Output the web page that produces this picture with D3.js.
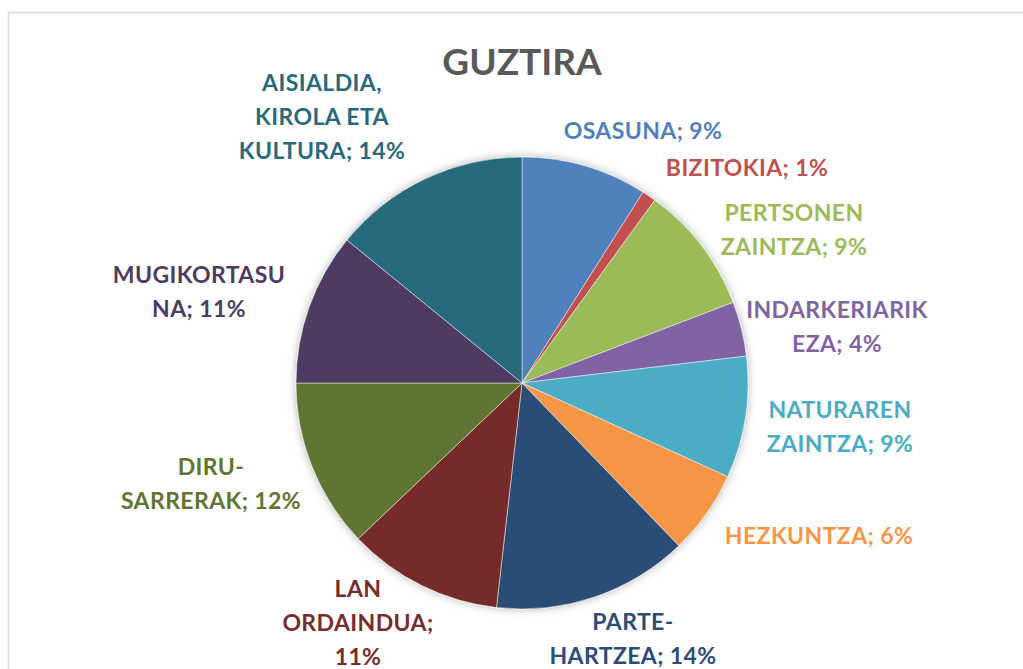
<!DOCTYPE html>
<html>
<head>
<meta charset="utf-8">
<script src="https://cdn.jsdelivr.net/npm/d3@7"></script>
<style>
  html, body { margin: 0; padding: 0; background: #fff; }
  svg { display: block; font-family: Lato, "Open Sans", sans-serif; }
</style>
</head>
<body>
<svg id="chart" width="1023" height="669"></svg>
<script>
// slice values (angles), clockwise from 12 o'clock
const categories = ['OSASUNA', 'BIZITOKIA', 'PERTSONEN ZAINTZA', 'INDARKERIARIK EZA',
  'NATURAREN ZAINTZA', 'HEZKUNTZA', 'PARTE-HARTZEA', 'LAN ORDAINDUA',
  'DIRU-SARRERAK', 'MUGIKORTASUNA', 'AISIALDIA, KIROLA ETA KULTURA']
const values = [9.0, 1.0, 9.2, 3.9, 8.7, 6.0, 14.0, 11.1, 12.1, 10.9, 14.1]
// how each label wraps ({p} = percentage)
const labelLines = [
  ['OSASUNA; {p}'],
  ['BIZITOKIA; {p}'],
  ['PERTSONEN', 'ZAINTZA; {p}'],
  ['INDARKERIARIK', 'EZA; {p}'],
  ['NATURAREN', 'ZAINTZA; {p}'],
  ['HEZKUNTZA; {p}'],
  ['PARTE-', 'HARTZEA; {p}'],
  ['LAN', 'ORDAINDUA;', '{p}'],
  ['DIRU-', 'SARRERAK; {p}'],
  ['MUGIKORTASU', 'NA; {p}'],
  ['AISIALDIA,', 'KIROLA ETA', 'KULTURA; {p}']
]
const colors = ['#4f81bd', '#c0504d', '#9bbb59', '#8064a2', '#4bacc6', '#f79646',
  '#2c4d75', '#772c2a', '#5f7530', '#4d3b62', '#276a7c']

// layout
const width = 1023
const height = 669
const cx = 522
const cy = 383
const radius = 226
const lineH = 34
// label centres (x, y of first line's middle) relative to pie centre
const labelPos = [
  [121, -252], [225, -215], [272, -170], [315, -73], [318, 27], [297, 153],
  [111, 239], [-164, 206], [-311, 84], [-323, -108], [-200, -300]
]

let svg = d3.select('#chart')

// chart area border (only top and left visible)
svg.append('line').attr('x1', 8).attr('x2', width).attr('y1', 12.5).attr('y2', 12.5)
  .attr('stroke', '#d9d9d9').attr('stroke-width', 1.5)
svg.append('line').attr('x1', 8.5).attr('x2', 8.5).attr('y1', 12).attr('y2', height)
  .attr('stroke', '#d9d9d9').attr('stroke-width', 1.5)

let defs = svg.append('defs')
let f = defs.append('filter').attr('id', 'shadow')
  .attr('x', '-20%').attr('y', '-20%').attr('width', '140%').attr('height', '140%')
f.append('feDropShadow').attr('dx', 0).attr('dy', 0).attr('stdDeviation', 4)
  .attr('flood-color', '#000').attr('flood-opacity', 0.3)

// title
svg.append('text')
  .attr('x', cx).attr('y', 75)
  .attr('text-anchor', 'middle')
  .style('font-size', '37px').style('font-weight', 700)
  .attr('fill', '#595959')
  .text('GUZTIRA')

let total = d3.sum(values)
let pie = d3.pie().sort(null).value(d => d)
let arc = d3.arc().innerRadius(0).outerRadius(radius)
let arcs = pie(values)

let g = svg.append('g').attr('transform', 'translate(' + cx + ',' + cy + ')')

g.append('g').attr('filter', 'url(#shadow)')
  .selectAll('path')
  .data(arcs)
  .enter().append('path')
  .attr('d', arc)
  .attr('fill', (d, i) => colors[i])
  .attr('stroke', 'rgba(255,255,255,0.6)')
  .attr('stroke-width', 0.8)

// data labels
let labels = g.append('g')
  .selectAll('text')
  .data(arcs)
  .enter().append('text')
  .attr('text-anchor', 'middle')
  .attr('fill', (d, i) => colors[i])
  .style('font-size', '23px').style('font-weight', 700)
  .style('letter-spacing', '0.4px')

labels.each(function (d, i) {
  let t = d3.select(this)
  let p = Math.round(d.value / total * 100) + '%'
  labelLines[i].forEach((s, j) => {
    t.append('tspan')
      .attr('x', labelPos[i][0])
      .attr('y', labelPos[i][1] + j * lineH + 8)
      .text(s.replace('{p}', p))
  })
})
</script>
</body>
</html>
